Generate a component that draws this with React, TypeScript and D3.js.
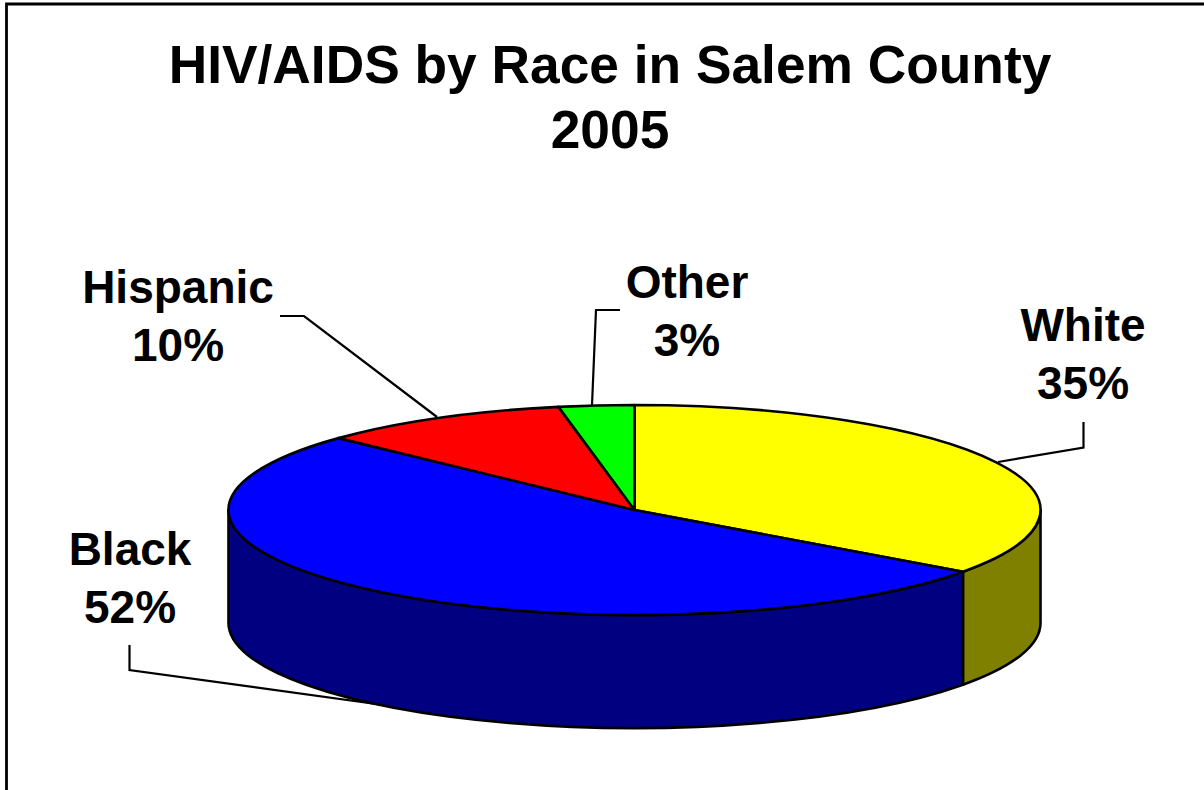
import React from "react";
import * as d3 from "d3";

const categories = ["White", "Black", "Hispanic", "Other"];
const shares = [35, 52, 10, 3];
const topColors = ["#ffff00", "#0000ff", "#ff0000", "#00ff00"];
const sideColors = ["#808000", "#000080", "#800000", "#008000"];
const titleLines = ["HIV/AIDS by Race in Salem County", "2005"];
const labelAnchors = [
  { x: 1083, y: 341 },
  { x: 130, y: 565 },
  { x: 178, y: 303 },
  { x: 687, y: 298 },
];
const leaders: [number, number][][] = [
  [[1083.5, 422], [1083.5, 447.5], [998, 462]],
  [[129.5, 645], [129.5, 670], [405, 708]],
  [[280, 316], [304, 316], [437, 417]],
  [[620, 310], [596, 310], [592, 405]],
];

const W = 1204, H = 790;
const cx = 634.5, cy = 510, rx = 406, ry = 105, depth = 113;
const FONT = "'Liberation Sans', Arial, sans-serif";

const px = (t: number) => cx + rx * Math.sin(t);
const py = (t: number) => cy - ry * Math.cos(t);

function arcTo(t0: number, t1: number, dy = 0, sweep = 1) {
  const large = Math.abs(t1 - t0) > Math.PI ? 1 : 0;
  return `A${rx},${ry} 0 ${large} ${sweep} ${px(t1)},${py(t1) + dy}`;
}

export default function App() {
  const pie = d3.pie<number>().sort(null).startAngle(0).endAngle(2 * Math.PI);
  const arcs = pie(shares);
  const line = d3.line();
  const lo = Math.PI / 2, hi = (3 * Math.PI) / 2;

  return (
    <svg
      width={W}
      height={H}
      viewBox={`0 0 ${W} ${H}`}
      style={{ position: "absolute", left: 0, top: 0, background: "#fff" }}
    >
      <path d={`M6.5,${H}V4H${W}`} fill="none" stroke="#000" strokeWidth={2.8} />

      {titleLines.map((t, i) => (
        <text
          key={t}
          x={610}
          y={83 + i * 64.5}
          textAnchor="middle"
          fontFamily={FONT}
          fontWeight={700}
          fontSize={53.3}
          fill="#000"
        >
          {t}
        </text>
      ))}

      {leaders.map((pts, i) => (
        <path key={i} d={line(pts) || ""} fill="none" stroke="#000" strokeWidth={2.2} />
      ))}

      {arcs.map((a, i) => {
        const s = Math.max(a.startAngle, lo);
        const e = Math.min(a.endAngle, hi);
        if (e <= s) return null;
        const d =
          `M${px(s)},${py(s)}` +
          arcTo(s, e) +
          `V${py(e) + depth}` +
          arcTo(e, s, depth, 0) +
          "Z";
        return (
          <path key={i} d={d} fill={sideColors[i]} stroke="#000" strokeWidth={2.6} strokeLinejoin="round" />
        );
      })}

      {arcs.map((a, i) => (
        <path
          key={categories[i]}
          d={`M${cx},${cy}L${px(a.startAngle)},${py(a.startAngle)}${arcTo(a.startAngle, a.endAngle)}Z`}
          fill={topColors[i]}
          stroke="#000"
          strokeWidth={2.6}
          strokeLinejoin="round"
        />
      ))}

      {categories.map((c, i) => (
        <text
          key={c}
          textAnchor="middle"
          fontFamily={FONT}
          fontWeight={700}
          fontSize={46}
          fill="#000"
        >
          <tspan x={labelAnchors[i].x} y={labelAnchors[i].y}>{c}</tspan>
          <tspan x={labelAnchors[i].x} y={labelAnchors[i].y + 57.5}>{shares[i]}%</tspan>
        </text>
      ))}
    </svg>
  );
}
